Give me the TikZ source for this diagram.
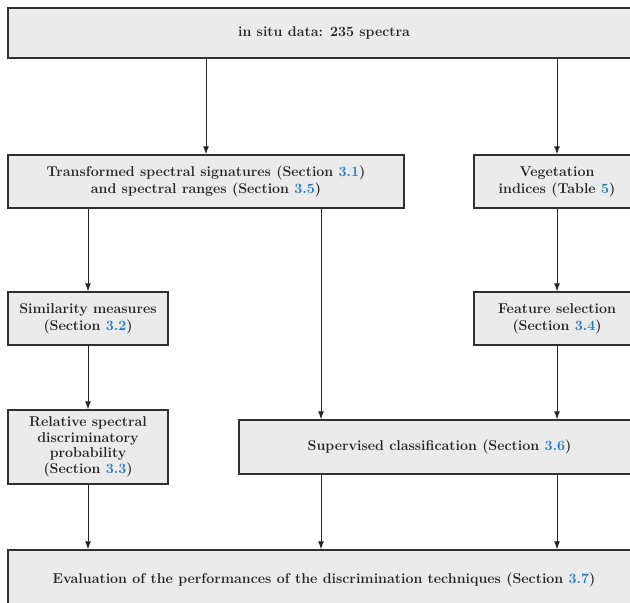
\documentclass[tikz,border=0pt]{standalone}
\usetikzlibrary{arrows.meta}
\definecolor{boxfill}{HTML}{EBEBEB}
\definecolor{boxline}{HTML}{303030}
\definecolor{refblue}{HTML}{1F78C1}
\newcommand{\rf}[1]{\textcolor{refblue}{#1}}
\begin{document}
\begin{tikzpicture}[x=1pt,y=-1pt,
  box/.style={draw=boxline, line width=1.4pt, fill=boxfill, align=center, inner sep=0pt,
    font=\fontsize{14.2}{17}\selectfont\bfseries, text=black!85},
  arr/.style={line width=1pt, draw=black!85, -{Latex[length=8pt,width=6pt]}}]
\clip (0,0) rectangle (630,603);
\useasboundingbox (0,0) rectangle (630,603);
\node[box, minimum width=632pt, minimum height=50pt] (top) at (324,33) {in situ data: 235 spectra};
\node[box, minimum width=396pt, minimum height=53pt] (trans) at (206,181.5)
  {Transformed spectral signatures (Section \rf{3.1})\\and spectral ranges (Section \rf{3.5})};
\node[box, minimum width=166pt, minimum height=53pt] (veg) at (557,181.5)
  {Vegetation\\indices (Table \rf{5})};
\node[box, minimum width=160pt, minimum height=53pt] (sim) at (88,318.5)
  {Similarity measures\\(Section \rf{3.2})};
\node[box, minimum width=166pt, minimum height=53pt] (feat) at (557,318.5)
  {Feature selection\\(Section \rf{3.4})};
\node[box, minimum width=160pt, minimum height=74pt,
  font=\fontsize{14.2}{15.5}\selectfont\bfseries] (rel) at (88,447)
  {Relative spectral\\discriminatory\\probability\\(Section \rf{3.3})};
\node[box, minimum width=401pt, minimum height=54pt] (sup) at (439.5,447)
  {Supervised classification (Section \rf{3.6})};
\node[box, minimum width=632pt, minimum height=60pt] (eval) at (324,580)
  {\raisebox{2pt}{Evaluation of the performances of the discrimination techniques (Section \rf{3.7})}};
\coordinate (c1) at (321,0);
\draw[arr] (trans.north |- top.south) -- (trans.north);
\draw[arr] (veg.north |- top.south) -- (veg.north);
\draw[arr] (sim.north |- trans.south) -- (sim.north);
\draw[arr] (trans.south -| c1) -- (sup.north -| c1);
\draw[arr] (veg.south) -- (feat.north);
\draw[arr] (sim.south) -- (rel.north);
\draw[arr] (feat.south) -- (sup.north -| feat.south);
\draw[arr] (rel.south) -- (eval.north -| rel.south);
\draw[arr] (sup.south -| c1) -- (eval.north -| c1);
\draw[arr] (sup.south -| feat.south) -- (eval.north -| feat.south);
\end{tikzpicture}
\end{document}
